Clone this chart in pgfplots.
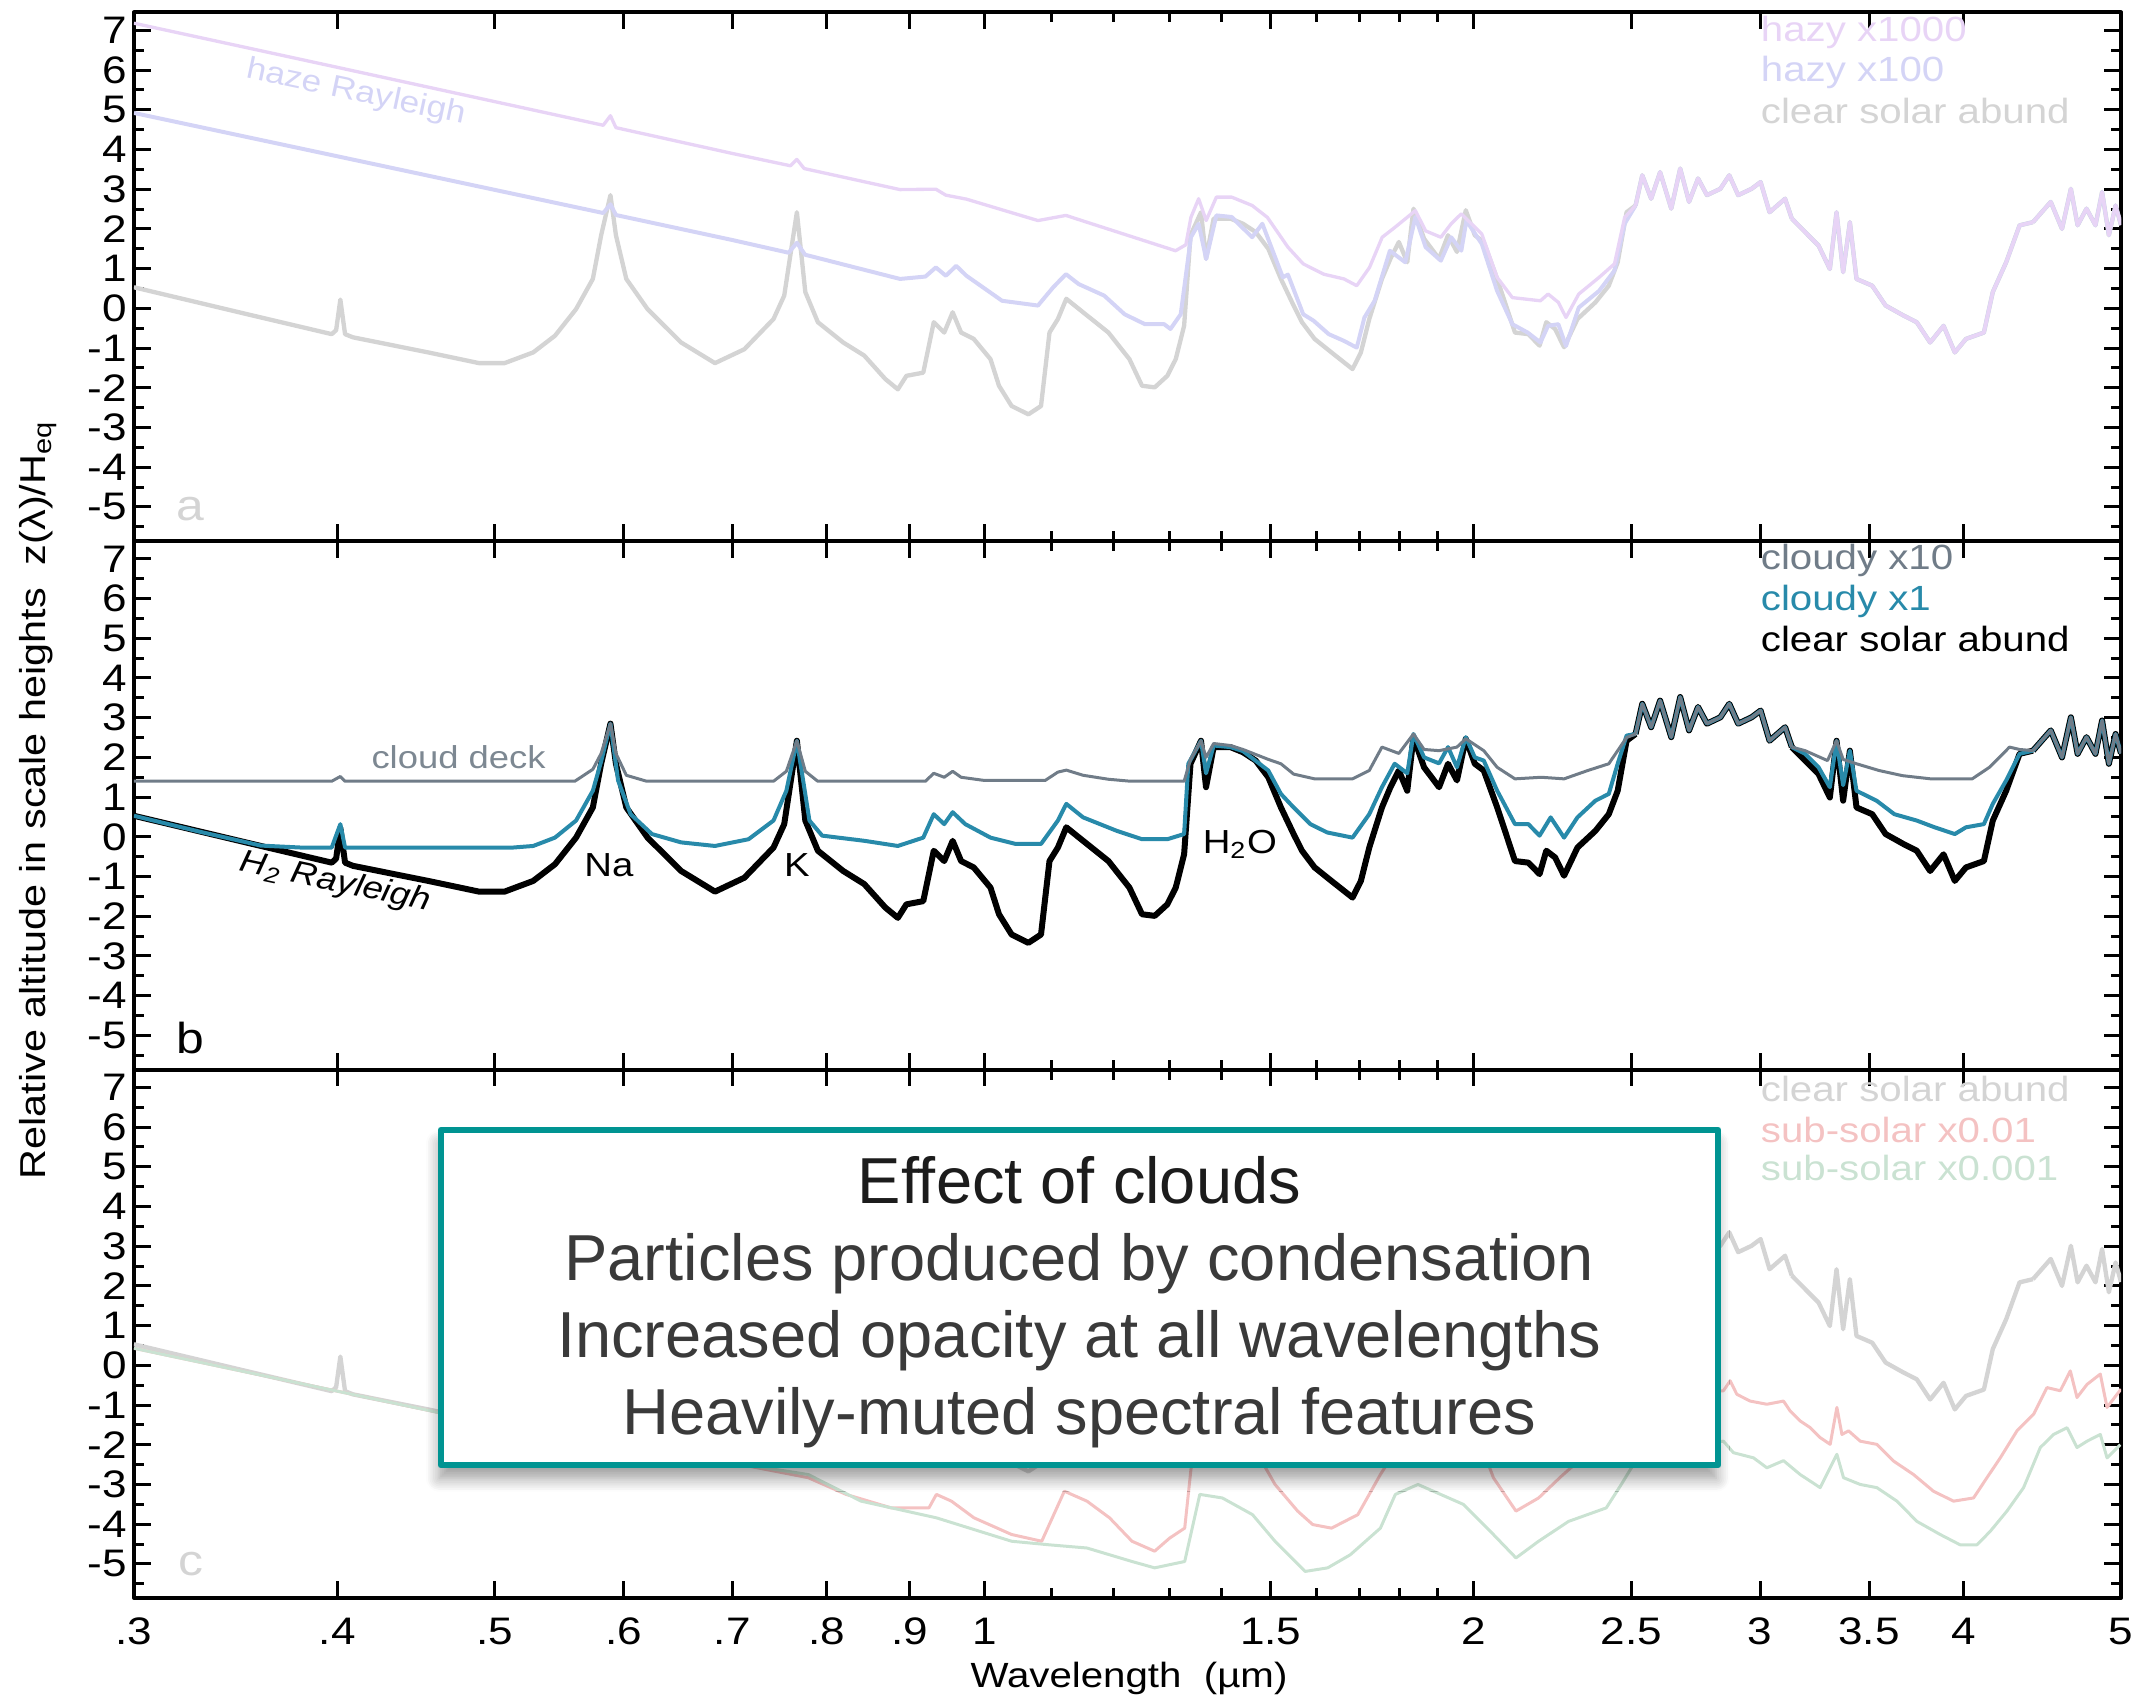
\documentclass[border=0pt]{standalone}
\usepackage{fontspec}
\setmainfont{Liberation Sans}[FakeStretch=1.15]
\newfontfamily\boxfont{Liberation Sans}
\usepackage{pgfplots}
\pgfplotsset{compat=1.18}
\usepackage{pgfplotstable}
\usetikzlibrary{shadows.blur}

\definecolor{hzA}{RGB}{232,212,246}
\definecolor{hzB}{RGB}{212,212,246}
\definecolor{clrA}{RGB}{212,212,212}
\definecolor{cldG}{RGB}{112,124,136}
\definecolor{cldT}{RGB}{40,138,170}
\definecolor{subP}{RGB}{244,194,194}
\definecolor{subG}{RGB}{202,226,210}
\definecolor{boxteal}{RGB}{0,148,146}
\definecolor{boxtitle}{RGB}{28,28,28}
\definecolor{boxtext}{RGB}{58,58,58}
\definecolor{deckgray}{RGB}{125,136,146}

% ---------- clear solar abundance ----------
\pgfplotstableread{
x y
0.300 0.53
0.354 -0.17
0.397 -0.65
0.3995 -0.55
0.4018 0.22
0.4045 -0.65
0.409 -0.73
0.455 -1.11
0.489 -1.38
0.507 -1.38
0.528 -1.11
0.5445 -0.69
0.561 -0.02
0.5745 0.74
0.5813 1.84
0.589 2.85
0.5936 1.84
0.6024 0.74
0.6208 -0.02
0.651 -0.86
0.683 -1.38
0.712 -1.03
0.742 -0.27
0.7534 0.32
0.767 2.42
0.7762 0.41
0.7902 -0.35
0.8189 -0.86
0.8437 -1.19
0.8692 -1.78
0.8848 -2.04
0.8956 -1.70
0.9172 -1.62
0.9309 -0.35
0.9448 -0.61
0.9562 -0.10
0.9677 -0.61
0.9851 -0.77
1.0088 -1.28
1.0210 -1.95
1.0394 -2.46
1.0644 -2.67
1.0836 -2.46
1.0967 -0.61
1.1098 -0.27
1.1231 0.24
1.1501 -0.10
1.1921 -0.61
1.2281 -1.28
1.2502 -1.95
1.2729 -1.99
1.2958 -1.70
1.3113 -1.28
1.3270 -0.44
1.3390 1.84
1.3591 2.42
1.3688 1.25
1.3836 2.26
1.4169 2.26
1.4424 2.13
1.4686 1.92
1.4950 1.50
1.5220 0.74
1.5496 0.07
1.5681 -0.35
1.5963 -0.77
1.6348 -1.11
1.6844 -1.53
1.7045 -1.11
1.7249 -0.27
1.7560 0.74
1.7773 1.25
1.7985 1.67
1.8201 1.16
1.8364 2.51
1.8642 1.75
1.9040 1.25
1.9284 1.84
1.9528 1.42
1.9776 2.47
2.0027 1.84
2.0283 1.67
2.0672 0.74
2.1199 -0.61
2.1605 -0.65
2.1950 -0.94
2.2160 -0.35
2.2440 -0.52
2.2725 -0.98
2.3160 -0.27
2.3755 0.15
2.4210 0.57
2.4517 1.16
2.4828 2.42
2.5146 2.59
}\Chead
\pgfplotstableread{
x y
2.5146 2.59
2.5386 3.35
2.5707 2.76
2.6034 3.43
2.6450 2.51
2.6786 3.52
2.7125 2.68
2.7473 3.27
2.7821 2.85
2.8354 3.01
2.8714 3.35
2.9078 2.85
2.9637 3.01
3.0017 3.18
3.0399 2.42
3.1077 2.76
3.1372 2.26
}\Cplat
\pgfplotstableread{
x y
3.1372 2.26
3.1973 1.92
3.2586 1.58
3.3109 0.99
3.3424 2.42
3.3739 0.91
3.4060 2.17
3.4385 0.74
3.5158 0.57
3.5832 0.07
3.6745 -0.18
3.7448 -0.35
3.8166 -0.86
3.8897 -0.44
3.9520 -1.11
4.0148 -0.77
4.1178 -0.61
4.1700 0.41
4.2498 1.16
4.3312 2.09
4.4142 2.17
}\Cmid
\pgfplotstableread{
x y
4.4142 2.17
4.5267 2.68
4.5993 2.00
4.6575 3.01
4.7019 2.09
4.7616 2.51
4.8225 2.09
4.8678 2.93
4.9149 1.84
4.9617 2.59
5.0000 2.10
}\Ctail

% ---------- cloudy x1 ----------
\pgfplotstableread{
x y
0.300 0.53
0.330 0.12
0.359 -0.22
0.380 -0.27
0.397 -0.27
0.4018 0.32
0.4045 -0.27
0.450 -0.27
0.513 -0.27
0.528 -0.23
0.5445 -0.02
0.561 0.41
0.5745 1.16
0.5813 1.90
0.589 2.85
0.5954 1.42
0.6061 0.57
0.6246 0.07
0.651 -0.14
0.683 -0.23
0.7163 -0.06
0.742 0.41
0.7557 1.16
0.767 2.42
0.7808 0.41
0.7949 0.03
0.8437 -0.10
0.8848 -0.23
0.9172 -0.02
0.9309 0.57
0.9448 0.32
0.9562 0.62
0.9734 0.32
1.0088 -0.02
1.0456 -0.18
1.0836 -0.18
1.1098 0.41
1.1231 0.83
1.1501 0.49
1.2064 0.15
1.2502 -0.06
1.2958 -0.06
1.3270 0.07
1.3349 1.84
1.3591 2.42
1.3688 1.60
1.3836 2.30
1.4169 2.26
1.4424 2.16
1.4950 1.67
1.5220 1.08
1.5496 0.74
1.5869 0.32
1.6250 0.11
1.6844 -0.02
1.7249 0.57
1.7560 1.25
1.7879 1.84
1.8201 1.60
1.8364 2.59
1.8642 2.00
1.9040 1.85
1.9284 2.26
1.9528 1.75
1.9776 2.51
2.0027 2.00
2.0283 1.92
2.0672 1.16
2.1199 0.32
2.1605 0.32
2.1950 0.03
2.2298 0.49
2.2725 -0.02
2.3160 0.49
2.3755 0.91
2.4210 1.08
2.4517 1.84
2.4828 2.55
2.5146 2.59
}\Thead
\pgfplotstableread{
x y
3.1372 2.26
3.1973 2.09
3.2586 1.75
3.3109 1.25
3.3424 2.42
3.3739 1.30
3.4060 2.17
3.4385 1.16
3.5377 0.91
3.6280 0.57
3.7448 0.41
3.8410 0.24
3.9520 0.07
4.0148 0.24
4.1178 0.32
4.1700 0.83
4.2498 1.42
4.3312 2.09
4.4142 2.17
}\Tmid

% ---------- cloudy x10 ----------
\pgfplotstableread{
x y
0.300 1.40
0.397 1.40
0.4018 1.52
0.4045 1.40
0.560 1.40
0.5745 1.70
0.5813 2.10
0.589 2.85
0.5936 2.10
0.6024 1.55
0.620 1.40
0.742 1.40
0.7557 1.65
0.767 2.42
0.7762 1.65
0.790 1.40
0.920 1.40
0.9309 1.60
0.9448 1.50
0.9562 1.65
0.9677 1.50
1.000 1.42
1.090 1.42
1.1098 1.63
1.1231 1.68
1.1501 1.55
1.1921 1.45
1.230 1.40
1.3270 1.40
1.3390 1.95
1.3591 2.42
1.3688 2.00
1.3836 2.35
1.4169 2.30
1.4424 2.20
1.4950 1.95
1.5220 1.84
1.5496 1.58
1.5963 1.46
1.6844 1.46
1.7249 1.67
1.7560 2.26
1.7985 2.10
1.8364 2.59
1.8642 2.20
1.9040 2.17
1.9528 2.26
1.9776 2.47
2.0283 2.17
2.0672 1.75
2.1199 1.46
2.2000 1.50
2.2725 1.46
2.3500 1.67
2.4210 1.84
2.4828 2.50
2.5146 2.59
}\Ghead
\pgfplotstableread{
x y
3.1372 2.26
3.1973 2.17
3.3000 1.92
3.3424 2.42
3.3739 1.95
3.4385 1.84
3.5500 1.67
3.6700 1.54
3.8200 1.46
4.0500 1.46
4.1500 1.75
4.2700 2.26
4.3312 2.20
4.4142 2.17
}\Gmid

% ---------- hazy x100 ----------
\pgfplotstableread{
x y
0.300 4.92
0.400 3.83
0.583 2.40
0.589 2.62
0.5936 2.35
0.700 1.72
0.758 1.40
0.767 1.65
0.776 1.35
0.8875 0.74
0.920 0.80
0.9337 1.03
0.947 0.82
0.9610 1.07
0.9750 0.82
1.0255 0.19
1.0789 0.07
1.1025 0.53
1.1225 0.86
1.1430 0.61
1.1850 0.32
1.2198 -0.15
1.2555 -0.40
1.2900 -0.40
1.3016 -0.52
1.3206 -0.15
1.3398 1.79
1.3545 2.13
1.3691 1.24
1.3890 2.34
1.4195 2.30
1.4612 1.79
1.4825 2.13
1.5261 0.78
1.5371 0.85
1.5708 -0.15
1.5937 -0.31
1.6285 -0.65
1.6642 -0.82
1.6945 -0.99
1.7130 -0.23
1.7379 0.19
1.7760 1.45
1.8149 1.16
1.8413 2.30
1.8682 1.54
1.9091 1.20
1.9369 1.79
1.9651 1.45
1.9793 2.21
2.0227 1.62
2.0669 0.44
2.1121 -0.40
2.1583 -0.61
2.1978 -0.86
2.2216 -0.44
2.2542 -0.40
2.2787 -0.95
2.3203 0.02
2.3882 0.44
2.4406 0.95
2.4761 2.13
2.5146 2.59
}\HBhead

% ---------- hazy x1000 ----------
\pgfplotstableread{
x y
0.300 7.18
0.400 6.07
0.583 4.61
0.589 4.85
0.5936 4.55
0.700 3.90
0.760 3.59
0.767 3.75
0.775 3.52
0.8875 2.99
0.9337 3.00
0.947 2.85
0.9750 2.75
1.0789 2.21
1.1225 2.34
1.1500 2.20
1.3110 1.45
1.3302 1.60
1.3398 2.29
1.3545 2.76
1.3691 2.21
1.3890 2.80
1.4195 2.80
1.4612 2.59
1.4931 2.29
1.5371 1.54
1.5708 1.12
1.6168 0.86
1.6642 0.74
1.6945 0.57
1.7254 1.03
1.7567 1.79
1.7888 2.04
1.8413 2.46
1.8682 1.95
1.9091 1.79
1.9369 2.13
1.9651 2.38
2.0227 1.87
2.0669 0.78
2.1121 0.27
2.1978 0.19
2.2216 0.36
2.2542 0.15
2.2787 -0.23
2.3203 0.36
2.3882 0.78
2.4406 1.12
2.4761 2.29
2.5146 2.59
}\HAhead

% ---------- sub-solar x0.01 ----------
\pgfplotstableread{
x y
0.300 0.43
0.350 -0.15
0.400 -0.65
0.462 -1.19
0.550 -1.70
0.589 -1.80
0.650 -2.20
0.7795 -2.83
0.8222 -3.25
0.8765 -3.59
0.9246 -3.59
0.9344 -3.25
0.9545 -3.42
0.9855 -3.84
1.0394 -4.26
1.0847 -4.43
1.1200 -3.17
1.1564 -3.42
1.1940 -3.84
1.2326 -4.43
1.2727 -4.68
1.3002 -4.35
1.3281 -4.10
1.3400 -2.60
1.3600 -1.70
1.4000 -1.60
1.4500 -1.75
1.5093 -3.00
1.5584 -3.67
1.5920 -4.01
1.6350 -4.10
1.6971 -3.76
1.7522 -2.75
1.8000 -2.00
1.8500 -1.50
1.9500 -1.60
2.0000 -1.50
2.0561 -2.83
2.1229 -3.67
2.1920 -3.34
2.2628 -2.80
2.3500 -2.20
2.4500 -1.60
2.5000 -0.80
2.6000 -0.60
2.7000 -0.70
2.8478 -0.64
2.8750 -0.39
2.9024 -0.73
2.9578 -0.90
3.0285 -0.98
3.1007 -0.90
3.1301 -1.15
3.1748 -1.40
3.2201 -1.57
3.2660 -1.82
3.3125 -1.99
3.3442 -1.06
3.3681 -1.74
3.3998 -1.65
3.4565 -1.91
3.5391 -1.99
3.6235 -2.41
3.7275 -2.75
3.8345 -3.17
3.9447 -3.42
4.0578 -3.34
4.1356 -2.83
4.2144 -2.33
4.3153 -1.65
4.4181 -1.23
4.5025 -0.56
4.5883 -0.64
4.6537 -0.14
4.6981 -0.81
4.7652 -0.48
4.8557 -0.22
4.9020 -1.06
4.9720 -0.73
5.0000 -0.60
}\Psub

% ---------- sub-solar x0.001 ----------
\pgfplotstableread{
x y
0.300 0.43
0.350 -0.15
0.400 -0.65
0.462 -1.19
0.550 -1.75
0.650 -2.25
0.7795 -2.75
0.8399 -3.42
0.9344 -3.84
1.0394 -4.43
1.0964 -4.52
1.1564 -4.60
1.2326 -4.94
1.2727 -5.10
1.3281 -4.94
1.3568 -3.25
1.4008 -3.34
1.4620 -3.76
1.5093 -4.43
1.5750 -5.19
1.6262 -5.10
1.6792 -4.77
1.7522 -4.10
1.7899 -3.25
1.8481 -3.00
1.9083 -3.25
1.9704 -3.50
2.0561 -4.26
2.1229 -4.85
2.1920 -4.43
2.2870 -3.93
2.4124 -3.59
2.4642 -3.00
2.5500 -2.00
2.7000 -2.00
2.8478 -1.91
2.8885 -2.20
2.9717 -2.33
3.0285 -2.58
3.1007 -2.40
3.1748 -2.75
3.2660 -3.08
3.3281 -2.41
3.3442 -2.24
3.3758 -2.83
3.4565 -3.00
3.5391 -3.08
3.6409 -3.42
3.7455 -3.93
3.8712 -4.26
3.9822 -4.52
4.0774 -4.52
4.1550 -4.18
4.2546 -3.67
4.3559 -3.08
4.4601 -2.07
4.5450 -1.74
4.6321 -1.57
4.6981 -2.07
4.7652 -1.91
4.8557 -1.74
4.9020 -2.33
4.9953 -2.00
}\Gsub

\pgfplotsset{
  specpanel/.style={
    scale only axis, width=596.1pt, height=158.55pt,
    anchor=north west,
    xmin=0.3, xmax=5, ymin=-5.86, ymax=7.45,
    xtick={0.3,0.4,0.5,0.6,0.7,0.8,0.9,1,1.5,2,2.5,3,3.5,4,5},
    minor xtick={1.1,1.2,1.3,1.4,1.6,1.7,1.8,1.9},
    ytick={-5,-4,-3,-2,-1,0,1,2,3,4,5,6,7},
    yticklabels={-5,-4,-3,-2,-1,0,1,2,3,4,5,6,7},
    minor ytick={-5.5,-4.5,-3.5,-2.5,-1.5,-0.5,0.5,1.5,2.5,3.5,4.5,5.5,6.5},
    tick align=inside,
    major tick length=5pt, minor tick length=3pt,
    every tick/.style={black, line width=0.9pt},
    axis line style={line width=1.2pt},
    tick label style={font=\fontsize{11.5}{12}\selectfont},
    yticklabel style={inner sep=2pt},
    xticklabel style={yshift=-2.5pt},
  },
}
\tikzset{legtext/.style={anchor=west, font=\fontsize{10.5}{12}\selectfont, inner sep=0pt}}

\begin{document}
\begin{tikzpicture}[line join=round, line cap=round]
\path[use as bounding box] (-40.2pt,3.75pt) rectangle (602.1pt,-506.85pt);

% ================= panel a =================
\begin{semilogxaxis}[specpanel, at={(0pt,0pt)}, xticklabels={}]
  \addplot[clrA, line width=1.3pt] table {\Chead};
  \addplot[clrA, line width=1.3pt] table {\Cplat};
  \addplot[clrA, line width=1.3pt] table {\Cmid};
  \addplot[clrA, line width=1.3pt] table {\Ctail};
  \addplot[hzB, line width=1.2pt] table {\HBhead};
  \addplot[hzB, line width=1.2pt] table {\Cplat};
  \addplot[hzB, line width=1.2pt] table {\Cmid};
  \addplot[hzB, line width=1.2pt] table {\Ctail};
  \addplot[hzA, line width=1.0pt] table {\HAhead};
  \addplot[hzA, line width=1.0pt] table {\Cplat};
  \addplot[hzA, line width=1.0pt] table {\Cmid};
  \addplot[hzA, line width=1.0pt] table {\Ctail};
  \node[legtext, text=hzA] at (axis cs:3.0,6.95) {hazy x1000};
  \node[legtext, text=hzB] at (axis cs:3.0,5.93) {hazy x100};
  \node[legtext, text=clrA] at (axis cs:3.0,4.98) {clear solar abund};
  \node[text=hzB, rotate=-12, font=\fontsize{9.2}{11}\selectfont] at (axis cs:0.411,5.42) {haze Rayleigh};
  \node[text=clrA, font=\fontsize{13}{15}\selectfont] at (axis cs:0.325,-5.06) {a};
\end{semilogxaxis}

% ================= panel b =================
\begin{semilogxaxis}[specpanel, at={(0pt,-158.55pt)}, xticklabels={}]
  \addplot[black, line width=1.8pt] table {\Chead};
  \addplot[black, line width=1.8pt] table {\Cplat};
  \addplot[black, line width=1.8pt] table {\Cmid};
  \addplot[black, line width=1.8pt] table {\Ctail};
  \addplot[cldT, line width=1.2pt] table {\Thead};
  \addplot[cldT, line width=1.2pt] table {\Cplat};
  \addplot[cldT, line width=1.2pt] table {\Tmid};
  \addplot[cldT, line width=1.2pt] table {\Ctail};
  \addplot[cldG, line width=0.9pt] table {\Ghead};
  \addplot[cldG, line width=0.9pt] table {\Cplat};
  \addplot[cldG, line width=0.9pt] table {\Gmid};
  \addplot[cldG, line width=0.9pt] table {\Ctail};
  \node[legtext, text=cldG] at (axis cs:3.0,6.95) {cloudy x10};
  \node[legtext, text=cldT] at (axis cs:3.0,5.93) {cloudy x1};
  \node[legtext, text=black] at (axis cs:3.0,4.98) {clear solar abund};
  \node[text=deckgray, font=\fontsize{9.5}{11}\selectfont] at (axis cs:0.475,2.0) {cloud deck};
  \node[rotate=-12, font=\itshape\fontsize{9.5}{11}\selectfont] at (axis cs:0.399,-1.16) {H\textsubscript{2} Rayleigh};
  \node[font=\fontsize{10}{12}\selectfont] at (axis cs:0.5877,-0.71) {Na};
  \node[font=\fontsize{10}{12}\selectfont] at (axis cs:0.767,-0.71) {K};
  \node[font=\fontsize{10}{12}\selectfont] at (axis cs:1.436,-0.20) {H\textsubscript{2}O};
  \node[font=\fontsize{13}{15}\selectfont] at (axis cs:0.325,-5.06) {b};
\end{semilogxaxis}

% ================= panel c =================
\begin{semilogxaxis}[specpanel, at={(0pt,-317.1pt)},
  xticklabels={.3,.4,.5,.6,.7,.8,.9,1,1.5,2,2.5,3,3.5,4,5}]
  \addplot[clrA, line width=1.3pt] table {\Chead};
  \addplot[clrA, line width=1.3pt] table {\Cplat};
  \addplot[clrA, line width=1.3pt] table {\Cmid};
  \addplot[clrA, line width=1.3pt] table {\Ctail};
  \addplot[subP, line width=0.9pt] table {\Psub};
  \addplot[subG, line width=0.9pt] table {\Gsub};
  \node[legtext, text=clrA] at (axis cs:3.0,6.95) {clear solar abund};
  \node[legtext, text=subP] at (axis cs:3.0,5.93) {sub-solar x0.01};
  \node[legtext, text=subG] at (axis cs:3.0,4.98) {sub-solar x0.001};
  \node[text=clrA, font=\fontsize{13}{15}\selectfont] at (axis cs:0.325,-5.01) {c};
\end{semilogxaxis}

% axis titles
\node[rotate=90, font=\fontsize{10.8}{13}\selectfont] at (-28.8pt,-236.25pt)
  {Relative altitude in scale heights\ \ z(λ)/H\textsubscript{eq}};
\node[font=\fontsize{10.5}{12}\selectfont] at (298.5pt,-499.65pt) {Wavelength\ \ (µm)};

% call-out box
\node[draw=boxteal, line width=2pt, fill=white, inner sep=0pt,
      minimum width=383.1pt, minimum height=100.5pt,
      blur shadow={shadow xshift=-0.5pt, shadow yshift=-4pt, shadow blur radius=4pt, shadow blur steps=8, shadow opacity=40}]
  at (283.65pt,-385.5pt) {};
\node[anchor=base, text=boxtitle, font=\boxfont\fontsize{19.5}{22}\selectfont] at (283.6pt,-357.4pt) {Effect of clouds};
\node[anchor=base, text=boxtext, font=\boxfont\fontsize{19.5}{22}\selectfont] at (283.6pt,-380.5pt) {Particles produced by condensation};
\node[anchor=base, text=boxtext, font=\boxfont\fontsize{19.5}{22}\selectfont] at (283.6pt,-403.6pt) {Increased opacity at all wavelengths};
\node[anchor=base, text=boxtext, font=\boxfont\fontsize{19.5}{22}\selectfont] at (283.6pt,-426.6pt) {Heavily-muted spectral features};
\end{tikzpicture}
\end{document}
